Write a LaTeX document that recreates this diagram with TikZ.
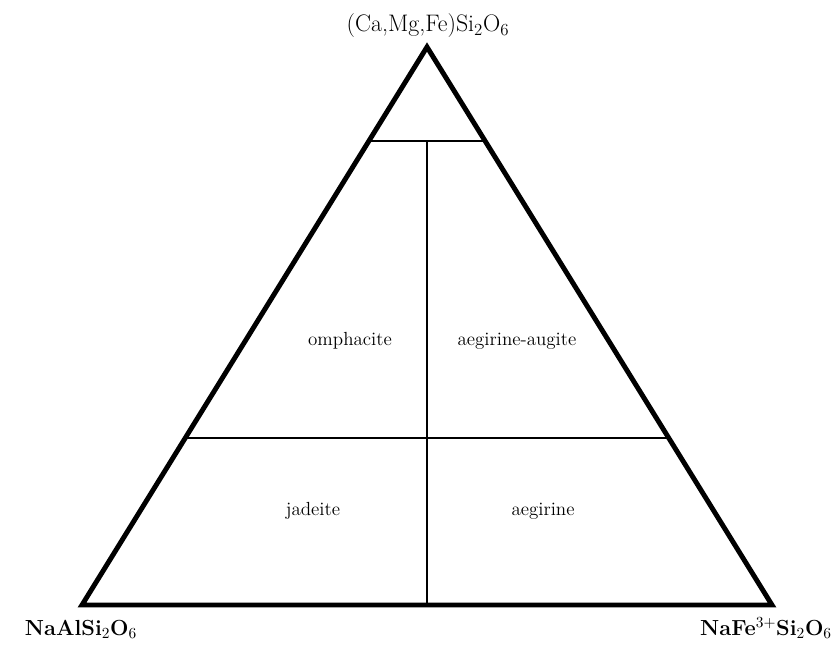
\documentclass[tikz,border=0pt]{standalone}
\usepackage{tikz}
\usetikzlibrary{calc,positioning}

\begin{document}
\begin{tikzpicture}[
    x=0.025cm, y=-0.025cm,
    corner/.style={anchor=base, font=\fontsize{15.5}{18}\selectfont\bfseries, inner sep=0pt},
    apexlab/.style={anchor=base, font=\fontsize{17}{20}\selectfont, inner sep=0pt},
    field/.style={anchor=base, font=\fontsize{13.5}{16}\selectfont, inner sep=0pt},
    frame/.style={line width=3.5pt, line join=miter},
    divide/.style={line width=1.4pt},
]
\useasboundingbox (0,0) rectangle (836,650);

% end members
\coordinate (cpx) at (427,47);
\coordinate (jd) at (82,605);
\coordinate (ae) at (772,605);

\draw[frame] (cpx) -- (jd) -- (ae) -- cycle;

% field boundaries
\coordinate (tl) at ($(cpx)!0.168!(jd)$);
\coordinate (tr) at ($(cpx)!0.168!(ae)$);
\coordinate (ml) at ($(cpx)!0.70!(jd)$);
\coordinate (mr) at ($(cpx)!0.70!(ae)$);
\coordinate (tm) at ($(tl)!0.5!(tr)$);
\coordinate (bm) at ($(jd)!0.5!(ae)$);
\draw[divide] (tl) -- (tr);
\draw[divide] (ml) -- (mr);
\draw[divide] (tm) -- (bm);

% labels
\node[apexlab] (lcpx) at (428,32) {(Ca,Mg,Fe)Si$_2$O$_6$};
\node[corner] (ljd) at (81,635) {NaAlSi$_2$O$_6$};
\node[corner] (lae) at (766,635) {NaFe$^{3+}$Si$_2$O$_6$};

\node[field] (omp) at (350,345) {omphacite};
\node[field] (aeg-aug) at (517,345) {aegirine-augite};
\node[field] (jad) at (313,515) {jadeite};
\node[field] (aeg) at (543,515) {aegirine};
\end{tikzpicture}
\end{document}
